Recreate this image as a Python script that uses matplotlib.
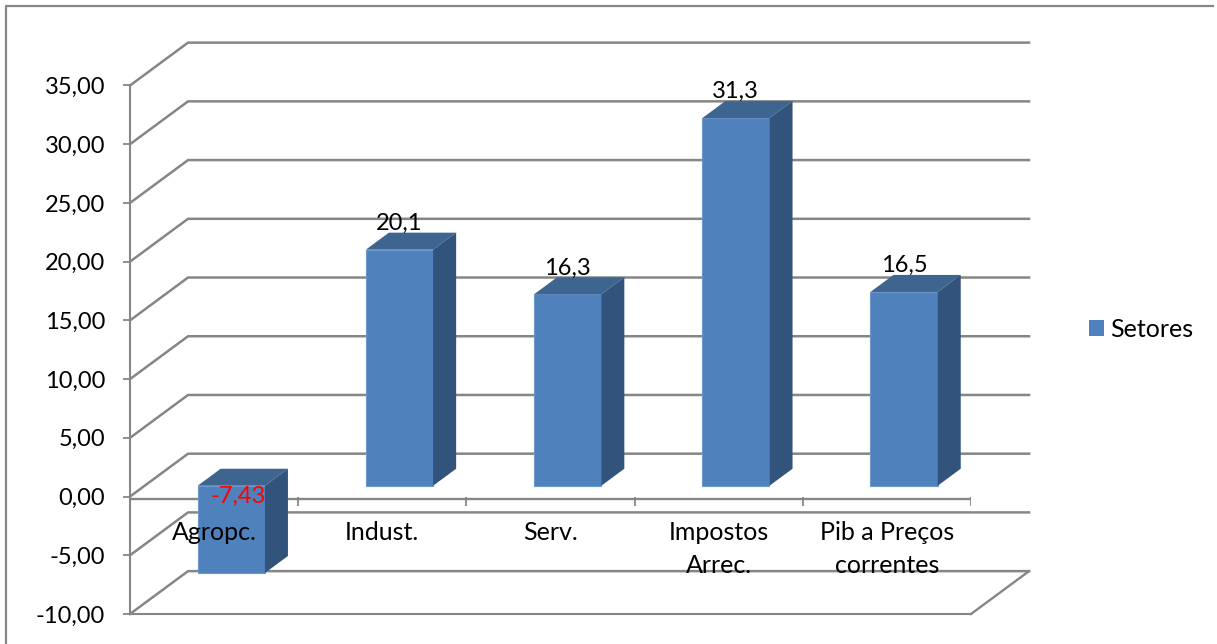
import matplotlib
matplotlib.use('Agg')
import matplotlib.pyplot as plt
from matplotlib.patches import Patch, Polygon

categorias = ['Agropc.', 'Indust.', 'Serv.', 'Impostos\nArrec.', 'Pib a Preços\ncorrentes']
valores = [-7.43, 20.1, 16.3, 31.3, 16.5]
rotulos = ['-7,43', '20,1', '16,3', '31,3', '16,5']
y_ticks = [-10, -5, 0, 5, 10, 15, 20, 25, 30, 35]
y_labels = ['-10,00', '-5,00', '0,00', '5,00', '10,00', '15,00', '20,00', '25,00', '30,00', '35,00']

CINZA = '#868686'
FRENTE = '#4F81BD'
TOPO = '#3E6590'
LADO = '#32547C'

# deslocamento da parede do fundo e profundidade das barras (unidades dos eixos)
FUNDO_X, FUNDO_Y = 0.345, 3.65
BARRA_X, BARRA_Y = 0.102, 0.92
PROF_X, PROF_Y = 0.137, 1.45
LARGURA = 0.40

plt.rcParams['font.family'] = ['Lato', 'DejaVu Sans']
plt.rcParams['font.size'] = 17

fig = plt.figure(figsize=(12.17, 6.44), dpi=100)
ax = fig.add_axes([130 / 1217, 30 / 644, 841 / 1217, 528.5 / 644])
ax.set_xlim(-0.5, 4.5)
ax.set_ylim(-10, 35)
ax.patch.set_visible(False)

# moldura externa
fig.add_artist(plt.Line2D([5.5 / 1217, 5.5 / 1217, 1213 / 1217], [0, 638.5 / 644, 638.5 / 644],
                          color=CINZA, lw=1.6))

# eixos
for lado in ['top', 'right']:
    ax.spines[lado].set_visible(False)
for lado in ['left', 'bottom']:
    ax.spines[lado].set_color(CINZA)
    ax.spines[lado].set_linewidth(1.5)
ax.set_xticks([])
ax.set_yticks(y_ticks, y_labels)
ax.tick_params(axis='y', length=5, width=1.3, color=CINZA, pad=13, labelcolor='black')

# linhas de grade em 3D
for y in y_ticks:
    ax.plot([-0.5, -0.5 + FUNDO_X, 4.5 + FUNDO_X], [y, y + FUNDO_Y, y + FUNDO_Y],
            color=CINZA, lw=1.8, clip_on=False, zorder=1)
ax.plot([4.5, 4.5 + FUNDO_X], [-10, -10 + FUNDO_Y], color=CINZA, lw=1.7, clip_on=False, zorder=1)

# eixo das categorias na altura do zero
ax.plot([-0.5, 4.5], [-0.2, -0.2], color=CINZA, lw=1.7, zorder=1)
ax.vlines([i - 0.5 for i in range(6)], -0.8, 0, color=CINZA, lw=1.3, zorder=1)

# barras
for i, v in enumerate(valores):
    x0 = i + BARRA_X - LARGURA / 2
    x1 = x0 + LARGURA
    base = BARRA_Y
    topo = base + max(v, 0)
    fundo = base + min(v, 0)
    ax.bar(x0, v, width=LARGURA, bottom=base, align='edge', color=FRENTE, edgecolor='#6C97C9',
           linewidth=0.8, zorder=3)
    ax.add_patch(Polygon([(x0, topo), (x1, topo), (x1 + PROF_X, topo + PROF_Y), (x0 + PROF_X, topo + PROF_Y)],
                         closed=True, facecolor=TOPO, edgecolor='none', zorder=3))
    ax.add_patch(Polygon([(x1, fundo), (x1, topo), (x1 + PROF_X, topo + PROF_Y), (x1 + PROF_X, fundo + PROF_Y)],
                         closed=True, facecolor=LADO, edgecolor='none', zorder=3))

# rotulos de dados
for i, (v, r) in enumerate(zip(valores, rotulos)):
    if v < 0:
        ax.text(i + 0.145, 0, r, color='#FF0000', ha='center', va='center', zorder=5)
    else:
        ax.text(i + 0.102, v + BARRA_Y + PROF_Y - 0.1, r, color='black', ha='center', va='bottom', zorder=5)

# rotulos das categorias
for i, c in enumerate(categorias):
    ax.text(i, -2.1, c, color='black', ha='center', va='top', linespacing=1.5, fontsize=18, zorder=5)

# legenda
fig.legend(handles=[Patch(facecolor=FRENTE, label='Setores')], loc='center left',
           bbox_to_anchor=(1069 / 1217, 1 - 329 / 644), frameon=False, handlelength=0.6,
           handleheight=0.6, handletextpad=0.24, borderpad=0.3, fontsize=18)

fig.savefig('out.png', dpi=100)
